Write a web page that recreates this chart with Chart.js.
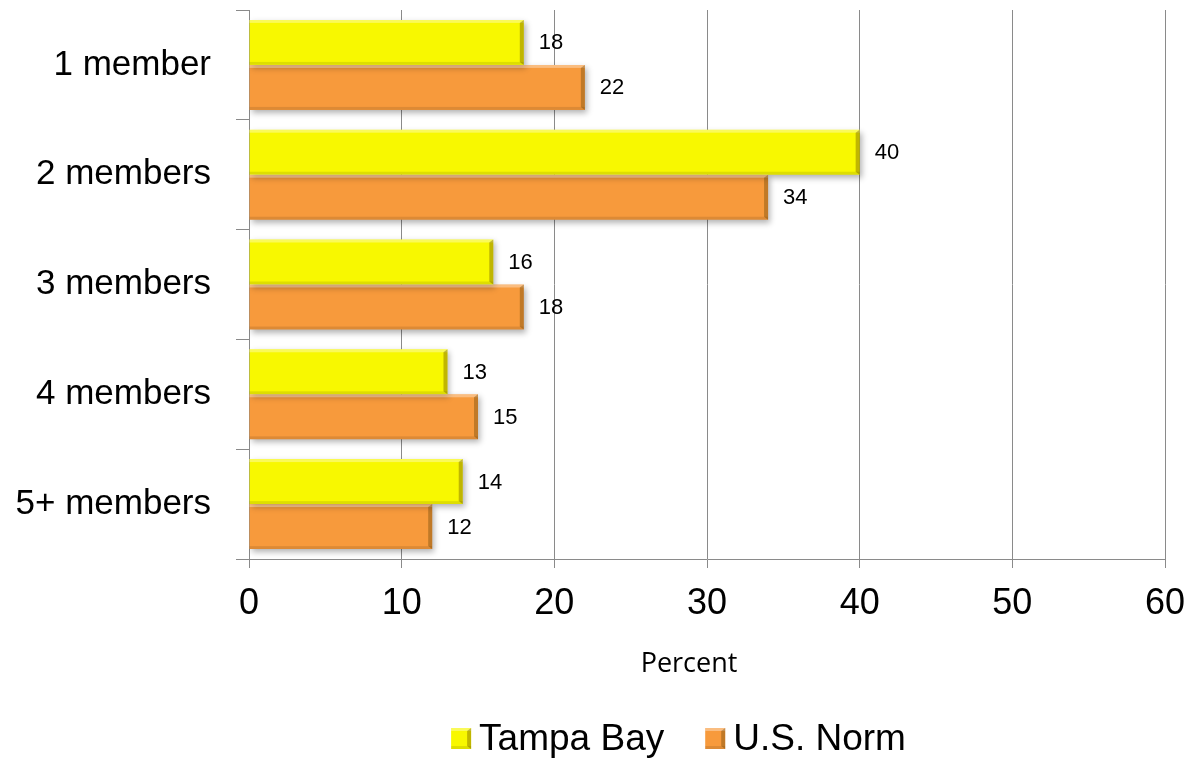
<!DOCTYPE html>
<html>
<head>
<meta charset="utf-8">
<script src="https://cdn.jsdelivr.net/npm/chart.js@4/dist/chart.umd.min.js"></script>
<style>
  html, body { margin: 0; padding: 0; background: #ffffff; }
  #wrap { width: 1192px; height: 759px; }
</style>
</head>
<body>
<div id="wrap"><canvas id="c" width="1192" height="759"></canvas></div>
<script>
// Household size distribution (percent)
const categories = ['1 member', '2 members', '3 members', '4 members', '5+ members'];
const tampaBay = [18, 40, 16, 13, 14];
const usNorm = [22, 34, 18, 15, 12];
const xTicks = [0, 10, 20, 30, 40, 50, 60];
const axisTitle = 'Percent';

const YELLOW = '#f8f800';
const ORANGE = '#f79a3c';
const GRID = '#8a8a8a';
const FONT = '"Liberation Sans", Arial, sans-serif';

// Bevel strips drawn over a rectangle: light top, dark bottom and right edge
function bevel(ctx, left, top, right, bottom, edge) {
  ctx.fillStyle = 'rgba(255,255,255,0.35)';
  ctx.fillRect(left, top, right - left, 3);
  ctx.fillStyle = 'rgba(0,0,0,0.10)';
  ctx.fillRect(left, bottom - 3, right - left, 3);
  ctx.fillStyle = 'rgba(90,60,0,0.35)';
  ctx.beginPath();
  ctx.moveTo(right - edge, top + 3);
  ctx.lineTo(right, top);
  ctx.lineTo(right, bottom);
  ctx.lineTo(right - edge, bottom - 3);
  ctx.closePath();
  ctx.fill();
}

// Soft drop shadow under the bars
const barShadow = {
  id: 'barShadow',
  beforeDatasetsDraw(chart) {
    const ctx = chart.ctx;
    ctx.save();
    ctx.shadowColor = 'rgba(0,0,0,0.30)';
    ctx.shadowBlur = 6;
    ctx.shadowOffsetX = 2;
    ctx.shadowOffsetY = 3;
  },
  afterDatasetsDraw(chart) {
    chart.ctx.restore();
  }
};

// Bevelled bar edges and value labels
const bevelAndLabels = {
  id: 'bevelAndLabels',
  afterDatasetsDraw(chart) {
    const ctx = chart.ctx;
    chart.data.datasets.forEach((ds, di) => {
      const meta = chart.getDatasetMeta(di);
      meta.data.forEach((bar, i) => {
        const left = bar.base, right = bar.x;
        const top = bar.y - bar.height / 2, bottom = bar.y + bar.height / 2;
        ctx.save();
        bevel(ctx, left, top, right, bottom, 4);
        ctx.fillStyle = '#000000';
        ctx.font = '22px ' + FONT;
        ctx.textAlign = 'left';
        ctx.textBaseline = 'middle';
        ctx.fillText(String(ds.data[i]), right + 15, bar.y + 1);
        ctx.restore();
      });
    });
  }
};

// Axis title and legend below the plot
const footer = {
  id: 'footer',
  afterDraw(chart) {
    const ctx = chart.ctx;
    ctx.save();
    ctx.fillStyle = '#000';
    ctx.font = '27px "Open Sans", sans-serif';
    ctx.textAlign = 'center';
    ctx.textBaseline = 'middle';
    ctx.fillText(axisTitle, 689, 664);

    // legend
    ctx.font = '37px ' + FONT;
    ctx.textAlign = 'left';
    const box = 20, gapText = 8, gapItem = 41;
    const items = chart.data.datasets.map(ds => ({
      label: ds.label, color: ds.backgroundColor, w: ctx.measureText(ds.label).width
    }));
    let total = 0;
    items.forEach((it, k) => { total += box + gapText + it.w + (k ? gapItem : 0); });
    let x = 678.5 - total / 2;
    const cy = 738.5;
    items.forEach(it => {
      ctx.fillStyle = it.color;
      ctx.fillRect(x, cy - 10.5, box, 21);
      bevel(ctx, x, cy - 10.5, x + box, cy + 10.5, 4);
      ctx.fillStyle = '#000';
      ctx.fillText(it.label, x + box + gapText, cy + 1);
      x += box + gapText + it.w + gapItem;
    });
    ctx.restore();
  }
};

new Chart(document.getElementById('c'), {
  type: 'bar',
  data: {
    labels: categories,
    datasets: [
      { label: 'Tampa Bay', data: tampaBay, backgroundColor: YELLOW, borderWidth: 0 },
      { label: 'U.S. Norm', data: usNorm, backgroundColor: ORANGE, borderWidth: 0 }
    ]
  },
  plugins: [barShadow, bevelAndLabels, footer],
  options: {
    indexAxis: 'y',
    responsive: false,
    animation: false,
    layout: { padding: { top: 10, right: 27, left: 0, bottom: 0 } },
    datasets: { bar: { categoryPercentage: 0.82, barPercentage: 1.0 } },
    scales: {
      x: {
        min: 0,
        max: 60,
        afterBuildTicks(scale) { scale.ticks = xTicks.map(v => ({ value: v })); },
        afterFit(scale) {
          scale.height = 200;
          scale.paddingLeft = 0;
          scale.paddingRight = 0;
        },
        grid: { color: GRID, lineWidth: 1, drawTicks: true, tickLength: 9, tickColor: GRID },
        border: { display: true, color: GRID, width: 1 },
        ticks: { color: '#000', font: { family: FONT, size: 36 }, padding: 14 }
      },
      y: {
        afterFit(scale) {
          scale.width = 249;
          scale.paddingTop = 0;
          scale.paddingBottom = 0;
        },
        grid: { display: true, offset: true, drawOnChartArea: false, drawTicks: true, tickLength: 13, color: GRID },
        border: { display: true, color: GRID, width: 1 },
        ticks: { color: '#000', font: { family: FONT, size: 35 }, padding: 25 }
      }
    },
    plugins: {
      legend: { display: false },
      tooltip: { enabled: false }
    }
  }
});
</script>
</body>
</html>
